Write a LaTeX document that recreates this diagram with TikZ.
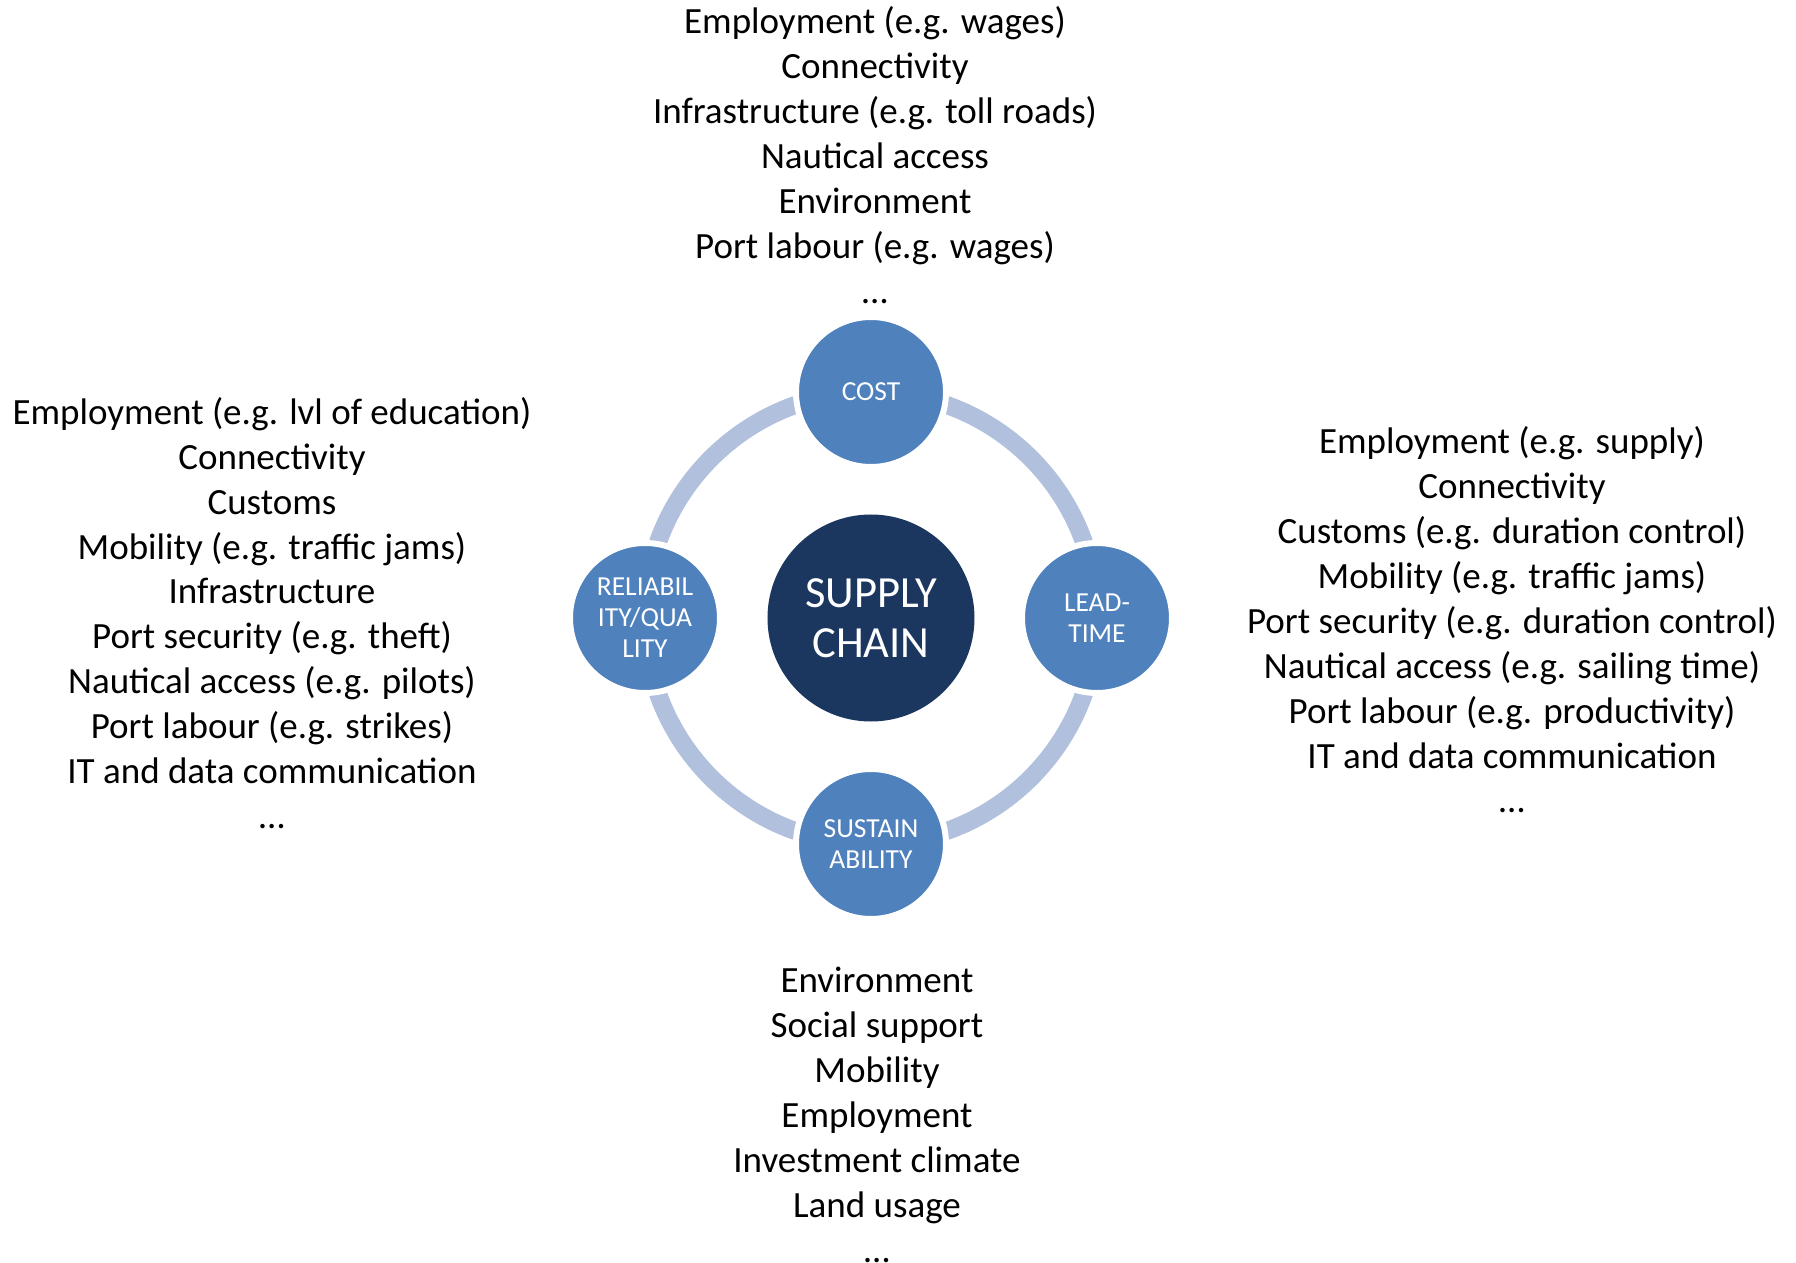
\documentclass[tikz,border=0pt]{standalone}
\usepackage{fontspec}
\setmainfont{Carlito}
\definecolor{hubnavy}{HTML}{1B375F}
\definecolor{satblue}{HTML}{4F81BD}
\definecolor{ringblue}{HTML}{B1C1DD}

\begin{document}
\begin{tikzpicture}[x=1pt, y=1pt,
  hub/.style = {circle, fill=hubnavy, minimum size=207pt, inner sep=0pt, text=white, align=center, font=\fontsize{44.5}{50}\selectfont},
  sat/.style = {circle, fill=satblue, draw=white, line width=6pt, minimum size=150pt, inner sep=0pt, text=white, align=center, font=\fontsize{27.5}{31}\selectfont},
  ring/.style = {draw=ringblue, line width=18pt},
  facts/.style = {align=center, inner sep=0pt, font=\fontsize{37}{44.9}\selectfont}]
  \useasboundingbox (-871,-645) rectangle (925,618);

  \node[hub] (hub) at (0,0) {SUPPLY\\CHAIN};
  % ring behind the four circles
  \draw[ring] (hub.center) circle[radius=226];
  \node[sat] (cost) at (90:226) {COST};
  \node[sat] (lead) at (0:226) {LEAD-\\TIME};
  \node[sat] (sust) at (270:226) {SUSTAIN\\ABILITY};
  \node[sat] (reli) at (180:226) {RELIABIL\\ITY/QUA\\LITY};

  \node[facts] (costlist) at (4,463) {Employment (e.g. wages)\\Connectivity\\Infrastructure (e.g. toll roads)\\Nautical access\\Environment\\Port labour (e.g. wages)\\…};
  \node[facts] (relilist) at (-599,5) {Employment (e.g. lvl of education)\\Connectivity\\Customs\\Mobility (e.g. traffic jams)\\Infrastructure\\Port security (e.g. theft)\\Nautical access (e.g. pilots)\\Port labour (e.g. strikes)\\IT and data communication\\…};
  \node[facts] (leadlist) at (641,-2) {Employment (e.g. supply)\\Connectivity\\Customs (e.g. duration control)\\Mobility (e.g. traffic jams)\\Port security (e.g. duration control)\\Nautical access (e.g. sailing time)\\Port labour (e.g. productivity)\\IT and data communication\\…};
  \node[facts] (sustlist) at (6,-497) {Environment\\Social support\\Mobility\\Employment\\Investment climate\\Land usage\\…};
\end{tikzpicture}
\end{document}
